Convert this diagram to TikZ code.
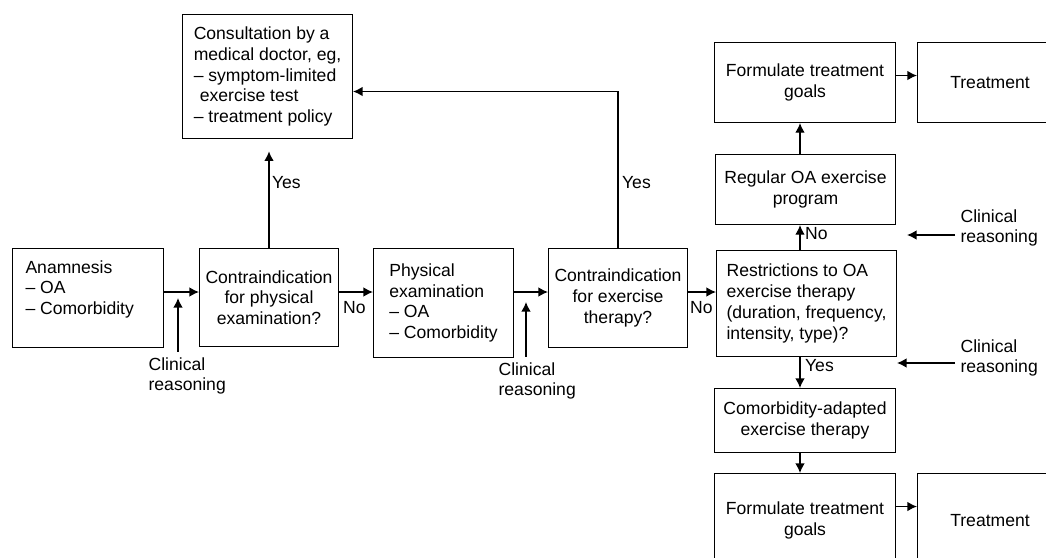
\documentclass[tikz,border=0pt]{standalone}
\usepackage{fontspec}
\setmainfont{Liberation Sans}
\usetikzlibrary{arrows.meta}

\begin{document}
\begin{tikzpicture}[x=0.02cm,y=-0.02cm,
  font=\fontsize{10}{11.8}\selectfont,
  box/.style={draw,line width=0.6pt,inner sep=0pt,anchor=north west},
  arr/.style={-{Latex[length=5.5pt,width=5.5pt]},line width=0.8pt},
  lbl/.style={anchor=west,inner sep=1pt},
  reason/.style={anchor=west,align=left,inner sep=3pt}]
	\useasboundingbox (0,0) rectangle (1046,558);
	\clip (0,0) rectangle (1046,558);
	% boxes
	\node[box,minimum width=3.4cm,minimum height=2.48cm,align=left] (cons) at (182,14)
		{Consultation by a\\medical doctor, eg,\\-- symptom-limited\\\hspace*{3.5pt}exercise test\\-- treatment policy};
	\node[box,minimum width=3.02cm,minimum height=1.98cm] (anam) at (12,248)
		{\parbox[c][1.5cm][t]{2.5cm}{Anamnesis\\-- OA\\-- Comorbidity}};
	\node[box,minimum width=2.78cm,minimum height=1.96cm,align=center] (cphys) at (199,248)
		{Contraindication\\for physical\\examination?};
	\node[box,minimum width=2.8cm,minimum height=2.18cm,align=left] (pexam) at (373,248)
		{Physical\\examination\\-- OA\\-- Comorbidity};
	\node[box,minimum width=2.78cm,minimum height=1.98cm,align=center] (cexer) at (548,248)
		{Contraindication\\for exercise\\therapy?};
	\node[box,minimum width=3.6cm,minimum height=2.12cm,align=left] (restr) at (716,250)
		{Restrictions to OA\\exercise therapy\\(duration, frequency,\\intensity, type)?};
	\node[box,minimum width=3.6cm,minimum height=1.4cm,align=center] (reg) at (715,154)
		{Regular OA exercise\\program};
	\node[box,minimum width=3.62cm,minimum height=1.6cm,align=center] (ftop) at (714,42)
		{Formulate treatment\\goals};
	\node[box,minimum width=2.9cm,minimum height=1.6cm] (ttop) at (917,42) {Treatment};
	\node[box,minimum width=3.62cm,minimum height=1.28cm,align=center] (com) at (714,388)
		{Comorbidity-adapted\\exercise therapy};
	\node[box,minimum width=3.62cm,minimum height=1.88cm,align=center] (fbot) at (714,473)
		{Formulate treatment\\goals};
	\node[box,minimum width=2.9cm,minimum height=1.88cm] (tbot) at (917,473) {Treatment};
	% labels
	\node[lbl] (yes1) at (270,183) {Yes};
	\node[lbl] (no1) at (341,308) {No};
	\node[lbl] (yes2) at (620,183) {Yes};
	\node[lbl] (no2) at (688,308) {No};
	\node[lbl] (no3) at (803,234) {No};
	\node[lbl] (yes3) at (803,366) {Yes};
	\node[reason] (cr1) at (143,376) {Clinical\\reasoning};
	\node[reason] (cr2) at (493,381) {Clinical\\reasoning};
	\node[reason] (cr3) at (955,228) {Clinical\\reasoning};
	\node[reason] (cr4) at (955,358) {Clinical\\reasoning};
	\coordinate (row) at (0,292);
	\coordinate (col) at (800,0);
	\coordinate (t1) at (178,298);
	\coordinate (t2) at (526,302);
	\coordinate (t3) at (907,235);
	\coordinate (t4) at (897,363);
	% arrows
	\draw[arr] (anam.east |- row) -- (cphys.west |- row);
	\draw[arr] (cphys.east |- row) -- (pexam.west |- row);
	\draw[arr] (pexam.east |- row) -- (cexer.west |- row);
	\draw[arr] (cexer.east |- row) -- (restr.west |- row);
	\draw[arr,shorten >=7pt] (cphys.north) -- (cphys.north |- cons.south);
	\draw[arr] (cexer.north) |- ([yshift=-0.3cm]cons.east);
	\draw[arr] (restr.north -| col) -- (reg.south -| col);
	\draw[arr] (reg.north -| col) -- (ftop.south -| col);
	\draw[arr] (restr.south -| col) -- (com.north -| col);
	\draw[arr] (com.south -| col) -- (fbot.north -| col);
	\draw[arr] ([yshift=0.14cm]ftop.east) -- ([yshift=0.14cm]ftop.east -| ttop.west);
	\draw[arr] ([yshift=0.28cm]fbot.east) -- ([yshift=0.28cm]fbot.east -| tbot.west);
	\draw[arr] (t1 |- cr1.north) -- (t1);
	\draw[arr] (t2 |- cr2.north) -- (t2);
	\draw[arr] (cr3.west |- t3) -- (t3);
	\draw[arr] (cr4.west |- t4) -- (t4);
\end{tikzpicture}
\end{document}
